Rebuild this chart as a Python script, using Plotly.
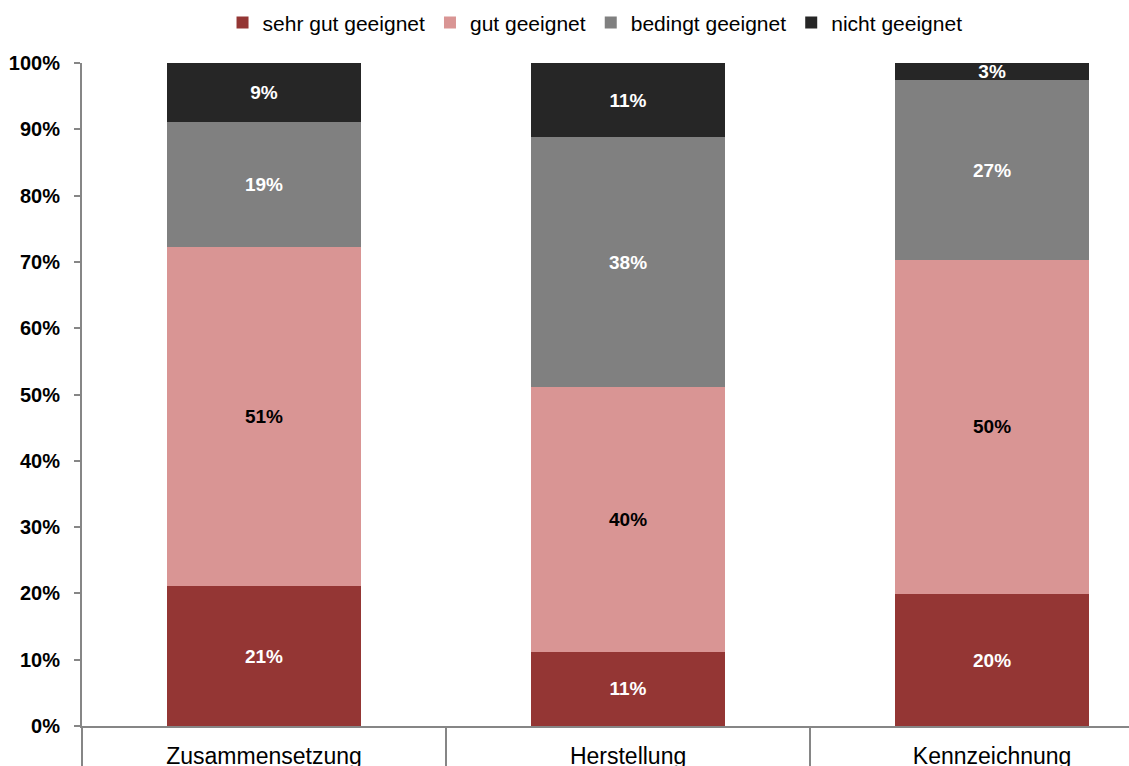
import plotly.graph_objects as go

categories = ["Zusammensetzung", "Herstellung", "Kennzeichnung"]
series_names = ["sehr gut geeignet", "gut geeignet", "bedingt geeignet", "nicht geeignet"]
sehr_gut = [21.1, 11.2, 19.9]
gut = [51.1, 39.9, 50.4]
bedingt = [18.9, 37.7, 27.1]
nicht = [8.9, 11.2, 2.6]
y_ticks = [0, 10, 20, 30, 40, 50, 60, 70, 80, 90, 100]
y_labels = [f"{v}%" for v in y_ticks]

colors = ["#943634", "#D99594", "#808080", "#262626"]
text_colors = ["white", "black", "white", "white"]

fig = go.Figure()
for name, vals, col, tcol in zip(series_names, [sehr_gut, gut, bedingt, nicht], colors, text_colors):
    fig.add_trace(go.Bar(
        x=categories, y=vals, name=name,
        marker=dict(color=col, line=dict(width=0)),
        text=[f"{round(v)}%" for v in vals],
        textposition="inside", insidetextanchor="middle",
        constraintext="none", textangle=0,
        textfont=dict(family="Liberation Sans, Arial", size=19, color=tcol, weight="bold"),
        hoverinfo="skip",
    ))

# invisible trace for the boundary-tick axis
fig.add_trace(go.Scatter(x=[0], y=[0], xaxis="x2", mode="markers",
                         marker=dict(opacity=0), showlegend=False, hoverinfo="skip"))

fig.update_layout(
    barmode="stack",
    bargap=0.467,
    width=1129, height=766,
    margin=dict(l=82, r=0, t=63, b=40, pad=0, autoexpand=False),
    plot_bgcolor="white", paper_bgcolor="white",
    font=dict(family="Liberation Sans, Arial", color="black"),
    legend=dict(orientation="h", x=0.49, xanchor="center", y=0.997, yanchor="top",
                yref="container", font=dict(size=21), itemwidth=30,
                traceorder="normal", tracegroupgap=0),
    xaxis=dict(type="category", range=[-0.5, 2.376], showgrid=False, automargin=False,
               showline=True, linecolor="#868686", linewidth=2,
               ticks="", tickfont=dict(size=23, color="black"),
               ticklabelstandoff=8),
    xaxis2=dict(overlaying="x", anchor="y", side="bottom", range=[-0.5, 2.376],
                automargin=False,
                tickmode="array", tickvals=[-0.5, 0.5, 1.5, 2.5],
                ticks="outside", ticklen=42, tickwidth=2, tickcolor="#868686",
                showticklabels=False, showgrid=False, zeroline=False, showline=False),
    yaxis=dict(range=[0, 100], tickmode="array", tickvals=y_ticks, ticktext=y_labels,
               showgrid=False, zeroline=False, showline=True, linecolor="#868686",
               linewidth=2, ticks="outside", ticklen=6, tickwidth=2, tickcolor="#868686",
               tickfont=dict(size=20, color="black", weight="bold"), automargin=False,
               ticklabelstandoff=10),
)

fig.write_html("out.html")
